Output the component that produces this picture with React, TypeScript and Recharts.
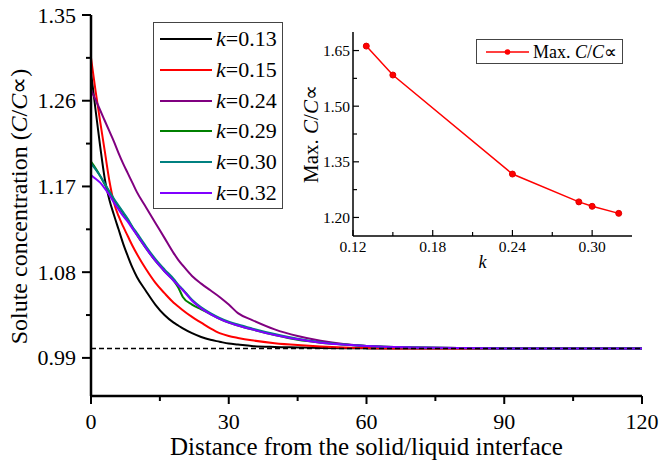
import React from 'react';
import { LineChart, Line, XAxis, YAxis, ReferenceLine, Legend } from 'recharts';

const FONT = '"Liberation Serif", "Times New Roman", serif';

// main panel: distance from the interface vs C/C∝ for each k
const distance = [0, 1, 2, 3, 4, 5, 6, 7, 8, 9, 10, 12, 14, 16, 18, 19, 20, 22, 24, 26, 28, 30, 32, 35, 40, 45, 50, 55, 60, 70, 80, 90, 100, 110, 120];
const k013 = [1.29, 1.25, 1.212, 1.178, 1.156, 1.14, 1.125, 1.11, 1.097, 1.085, 1.075, 1.06, 1.046, 1.035, 1.027, 1.024, 1.021, 1.016, 1.012, 1.009, 1.007, 1.005, 1.004, 1.0025, 1.0015, 1.001, 1.0005, 1.0002, 1.0, 1.0, 1.0, 1.0, 1.0, 1.0, 1.0];
const k015 = [1.305, 1.27, 1.238, 1.207, 1.176, 1.153, 1.139, 1.128, 1.118, 1.108, 1.099, 1.083, 1.069, 1.058, 1.048, 1.044, 1.04, 1.033, 1.027, 1.021, 1.016, 1.013, 1.011, 1.0085, 1.0055, 1.0035, 1.002, 1.001, 1.0005, 1.0, 1.0, 1.0, 1.0, 1.0, 1.0];
const k024 = [1.271, 1.261, 1.25, 1.239, 1.228, 1.217, 1.205, 1.194, 1.184, 1.174, 1.164, 1.148, 1.132, 1.116, 1.1, 1.093, 1.087, 1.076, 1.068, 1.061, 1.054, 1.046, 1.037, 1.03, 1.02, 1.013, 1.008, 1.0045, 1.0025, 1.001, 1.0003, 1.0, 1.0, 1.0, 1.0];
const k029 = [1.196, 1.189, 1.181, 1.172, 1.164, 1.156, 1.149, 1.142, 1.135, 1.127, 1.119, 1.105, 1.092, 1.081, 1.071, 1.064, 1.054, 1.046, 1.041, 1.036, 1.031, 1.027, 1.024, 1.02, 1.014, 1.009, 1.006, 1.004, 1.0025, 1.001, 1.0003, 1.0, 1.0, 1.0, 1.0];
const k030 = [1.194, 1.188, 1.181, 1.173, 1.165, 1.157, 1.15, 1.143, 1.136, 1.128, 1.121, 1.107, 1.094, 1.083, 1.073, 1.067, 1.062, 1.051, 1.043, 1.037, 1.032, 1.028, 1.025, 1.021, 1.015, 1.01, 1.0065, 1.004, 1.0025, 1.001, 1.0003, 1.0, 1.0, 1.0, 1.0];
const k032 = [1.182, 1.178, 1.174, 1.168, 1.161, 1.153, 1.146, 1.139, 1.133, 1.126, 1.119, 1.105, 1.092, 1.081, 1.071, 1.066, 1.061, 1.05, 1.042, 1.036, 1.031, 1.027, 1.024, 1.02, 1.014, 1.0095, 1.006, 1.004, 1.0025, 1.001, 1.0003, 1.0, 1.0, 1.0, 1.0];

const xTicks = [0, 15, 30, 45, 60, 75, 90, 105, 120];
const xMajor = [0, 30, 60, 90, 120];
const yTicks = [0.99, 1.035, 1.08, 1.125, 1.17, 1.215, 1.26, 1.305, 1.35];
const yMajor = [0.99, 1.08, 1.17, 1.26, 1.35];

// inset: maximum C/C∝ against k
const kValues = [0.13, 0.15, 0.24, 0.29, 0.3, 0.32];
const maxC = [1.662, 1.584, 1.317, 1.242, 1.23, 1.211];
const kTicks = [0.12, 0.15, 0.18, 0.21, 0.24, 0.27, 0.3];
const kMajor = [0.12, 0.18, 0.24, 0.3];
const maxTicks = [1.2, 1.275, 1.35, 1.425, 1.5, 1.575, 1.65];
const maxMajor = [1.2, 1.35, 1.5, 1.65];

const series = [
  { key: 'k013', name: 'k=0.13', color: '#000000' },
  { key: 'k015', name: 'k=0.15', color: '#ff0000' },
  { key: 'k024', name: 'k=0.24', color: '#800080' },
  { key: 'k029', name: 'k=0.29', color: '#008000' },
  { key: 'k030', name: 'k=0.30', color: '#008080' },
  { key: 'k032', name: 'k=0.32', color: '#8000ff' },
];

const rows = distance.map((d, i) => ({
  d,
  k013: k013[i],
  k015: k015[i],
  k024: k024[i],
  k029: k029[i],
  k030: k030[i],
  k032: k032[i],
}));

const insetRows = kValues.map((k, i) => ({ k, max: maxC[i] }));

const isMajor = (list: number[], v: number) => list.some(m => Math.abs(m - v) < 1e-9);

const MainXTick = (props: any) => {
  const { x, y, payload } = props;
  const major = isMajor(xMajor, payload.value);
  return (
    <g>
      <line x1={x} x2={x} y1={y} y2={y + (major ? 8 : 5)} stroke="#000" strokeWidth={2} />
      {major && (
        <text x={x} y={y + 33} textAnchor="middle" fontFamily={FONT} fontSize={22} fill="#000">
          {payload.value}
        </text>
      )}
    </g>
  );
};

const MainYTick = (props: any) => {
  const { x, y, payload } = props;
  const major = isMajor(yMajor, payload.value);
  return (
    <g>
      <line x1={x} x2={x - (major ? 9 : 5)} y1={y} y2={y} stroke="#000" strokeWidth={2} />
      {major && (
        <text x={x - 15} y={y + 7.5} textAnchor="end" fontFamily={FONT} fontSize={22} fill="#000">
          {payload.value.toFixed(2)}
        </text>
      )}
    </g>
  );
};

const InsetXTick = (props: any) => {
  const { x, y, payload } = props;
  const major = isMajor(kMajor, payload.value);
  return (
    <g>
      <line x1={x} x2={x} y1={y} y2={y - (major ? 6 : 4)} stroke="#000" strokeWidth={1.2} />
      {major && (
        <text x={x} y={y + 16} textAnchor="middle" fontFamily={FONT} fontSize={15.5} fill="#000">
          {payload.value.toFixed(2)}
        </text>
      )}
    </g>
  );
};

const InsetYTick = (props: any) => {
  const { x, y, payload } = props;
  const major = isMajor(maxMajor, payload.value);
  return (
    <g>
      <line x1={x} x2={x + (major ? 6 : 4)} y1={y} y2={y} stroke="#000" strokeWidth={1.2} />
      {major && (
        <text x={x - 3} y={y + 5.5} textAnchor="end" fontFamily={FONT} fontSize={15.5} fill="#000">
          {payload.value.toFixed(2)}
        </text>
      )}
    </g>
  );
};

const MainXLabel = (props: any) => {
  const vb = props.viewBox || {};
  return (
    <text x={vb.x + vb.width / 2} y={vb.y + 59} textAnchor="middle" fontFamily={FONT} fontSize={25} fill="#000">
      Distance from the solid/liquid interface
    </text>
  );
};

const MainYLabel = (props: any) => {
  const vb = props.viewBox || {};
  const cx = vb.x + 27;
  const cy = vb.y + vb.height / 2 + 1;
  return (
    <text x={cx} y={cy} transform={`rotate(-90, ${cx}, ${cy})`} textAnchor="middle" fontFamily={FONT} fontSize={24} fill="#000">
      Solute concentration (<tspan fontStyle="italic">C</tspan>/<tspan fontStyle="italic">C</tspan>∝)
    </text>
  );
};

const InsetXLabel = (props: any) => {
  const vb = props.viewBox || {};
  return (
    <text x={vb.x + vb.width / 2 - 10} y={vb.y + 32} textAnchor="middle" fontFamily={FONT} fontSize={18} fontStyle="italic" fill="#000">
      k
    </text>
  );
};

const InsetYLabel = (props: any) => {
  const vb = props.viewBox || {};
  const cx = vb.x + 28;
  const cy = vb.y + vb.height / 2;
  return (
    <text x={cx} y={cy} transform={`rotate(-90, ${cx}, ${cy})`} textAnchor="middle" fontFamily={FONT} fontSize={21} fill="#000">
      Max. <tspan fontStyle="italic">C</tspan>/<tspan fontStyle="italic">C</tspan>∝
    </text>
  );
};

const MainLegend = (props: any) => (
  <div
    style={{
      border: '1px solid #444',
      background: '#fff',
      width: 130,
      height: 187,
      boxSizing: 'border-box',
      padding: '1px 0',
    }}
  >
    {(props.payload || []).map((entry: any) => (
      <div key={entry.value} style={{ height: 30.7, display: 'flex', alignItems: 'center' }}>
        <svg width={54} height={4} style={{ marginLeft: 6, marginRight: 2 }}>
          <line x1={0} x2={52} y1={2} y2={2} stroke={entry.color} strokeWidth={2} />
        </svg>
        <span style={{ fontFamily: FONT, fontSize: 22, lineHeight: 1, color: '#000' }}>
          <i>k</i>
          {String(entry.value).slice(1)}
        </span>
      </div>
    ))}
  </div>
);

const InsetLegend = () => (
  <div
    style={{
      border: '1px solid #444',
      background: '#fff',
      width: 147,
      height: 25,
      boxSizing: 'border-box',
      display: 'flex',
      alignItems: 'center',
    }}
  >
    <svg width={46} height={8} style={{ marginLeft: 9, marginRight: 1 }}>
      <line x1={0} x2={43} y1={4} y2={4} stroke="#ff0000" strokeWidth={1.5} />
      <circle cx={21.5} cy={4} r={2.8} fill="#ff0000" />
    </svg>
    <span style={{ fontFamily: FONT, fontSize: 18, lineHeight: 1, color: '#000' }}>
      Max. <i>C</i>/<i>C</i>∝
    </span>
  </div>
);

const frame = { stroke: '#000', strokeWidth: 2.5 };
const insetFrame = { stroke: '#000', strokeWidth: 1.5 };

export default function App() {
  return (
    <div style={{ position: 'absolute', left: 0, top: 0, width: 660, height: 463, background: '#fff' }}>
      <LineChart width={660} height={463} data={rows} margin={{ top: 15, right: 18, bottom: 0, left: 0 }}>
        <XAxis
          dataKey="d"
          type="number"
          domain={[0, 120]}
          ticks={xTicks}
          interval={0}
          tickSize={0}
          tickMargin={0}
          tickLine={false}
          tick={MainXTick}
          height={67}
          axisLine={frame}
          label={MainXLabel}
        />
        <YAxis
          type="number"
          domain={[0.95, 1.35]}
          ticks={yTicks}
          interval={0}
          tickSize={0}
          tickMargin={0}
          tickLine={false}
          tick={MainYTick}
          width={91}
          axisLine={frame}
          label={MainYLabel}
        />
        <XAxis xAxisId="top" orientation="top" height={0} tick={false} tickLine={false} axisLine={frame} />
        <YAxis yAxisId="right" orientation="right" width={0} tick={false} tickLine={false} axisLine={frame} />
        <Legend
          layout="vertical"
          align="center"
          verticalAlign="middle"
          content={MainLegend}
          wrapperStyle={{ left: 153, top: 22, width: 130, height: 187 }}
        />
        {series.map(s => (
          <Line
            key={s.key}
            dataKey={s.key}
            name={s.name}
            stroke={s.color}
            strokeWidth={2}
            type="monotone"
            dot={false}
            isAnimationActive={false}
          />
        ))}
        <ReferenceLine y={1} stroke="#000" strokeWidth={1.5} strokeDasharray="5 3" zIndex={1000} />
      </LineChart>

      <div style={{ position: 'absolute', left: 290, top: 20, width: 350, height: 260 }}>
        <LineChart width={350} height={260} data={insetRows} margin={{ top: 12, right: 8, bottom: 0, left: 0 }}>
          <XAxis
            dataKey="k"
            type="number"
            domain={[0.12, 0.33]}
            ticks={kTicks}
            interval={0}
            tickSize={0}
            tickMargin={0}
            tickLine={false}
            tick={InsetXTick}
            height={44}
            axisLine={insetFrame}
            label={InsetXLabel}
          />
          <YAxis
            type="number"
            domain={[1.15, 1.7]}
            ticks={maxTicks}
            interval={0}
            tickSize={0}
            tickMargin={0}
            tickLine={false}
            tick={InsetYTick}
            width={63}
            axisLine={insetFrame}
            label={InsetYLabel}
          />
          <XAxis xAxisId="top" orientation="top" height={0} tick={false} tickLine={false} axisLine={insetFrame} />
          <YAxis yAxisId="right" orientation="right" width={0} tick={false} tickLine={false} axisLine={insetFrame} />
          <Legend
            layout="vertical"
            align="center"
            verticalAlign="middle"
            content={InsetLegend}
            wrapperStyle={{ left: 186, top: 19, width: 147, height: 25 }}
          />
          <Line
            dataKey="max"
            name="Max. C/C∝"
            stroke="#ff0000"
            strokeWidth={1.5}
            type="linear"
            dot={{ r: 3, fill: '#ff0000', stroke: '#e00000', strokeWidth: 1 }}
            isAnimationActive={false}
          />
        </LineChart>
      </div>
    </div>
  );
}
